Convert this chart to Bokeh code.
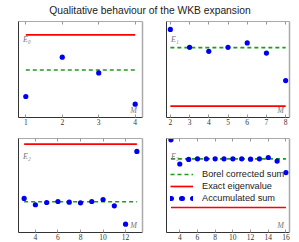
from bokeh.plotting import figure
from bokeh.layouts import column, row
from bokeh.models import (Range1d, LinearAxis, FixedTicker, Label, Legend,
                          LegendItem)
from bokeh.embed import file_html
from bokeh.resources import INLINE

TITLE = "Qualitative behaviour of the WKB expansion"

# Truncation order M and accumulated partial sums (relative energy scale;
# the original shows no y tick values)
m0 = [1, 2, 3, 4]
acc0 = [0.219, 0.628, 0.464, 0.139]
exact0 = 0.861
borel0 = 0.495

m1 = [2, 3, 4, 5, 6, 7, 8]
acc1 = [0.917, 0.731, 0.689, 0.731, 0.777, 0.671, 0.385]
exact1 = 0.119
borel1 = 0.728

m2 = [3, 4, 5, 6, 7, 8, 9, 10, 11, 12, 13]
acc2 = [0.362, 0.295, 0.319, 0.330, 0.323, 0.316, 0.330, 0.351, 0.284, 0.089, 0.862]
exact2 = 0.940
borel2 = 0.327

m3 = [3, 4, 5, 6, 7, 8, 9, 10, 11, 12, 13, 14, 15, 16]
acc3 = [0.986, 0.729, 0.777, 0.784, 0.784, 0.784, 0.784, 0.784, 0.784, 0.780,
        0.784, 0.798, 0.760, 0.638]
exact3 = 0.266
borel3 = 0.784

ticks0 = [1, 2, 3, 4]
ticks1 = [2, 3, 4, 5, 6, 7, 8]
ticks2 = [4, 6, 8, 10, 12]
ticks3 = [4, 6, 8, 10, 12, 14, 16]
xlims = [(0.8, 4.2), (1.8, 8.2), (2.5, 13.5), (2.5, 16.4)]
level_names = ["E\u2080", "E\u2081", "E\u2082", "E\u2083"]
legend_labels = ["Borel corrected sum", "Exact eigenvalue", "Accumulated sum"]

RED = "#ff0000"
GREEN = "#1f9a1f"
BLUE = "#0000f0"
SERIF = "Liberation Serif"
SANS = "Liberation Sans"
NAN = float("nan")


def panel(ms, acc, exact, borel, ticks, xr, name, fw, fh, mbl, mbr, mbt, mbb,
          with_legend=False):
    p = figure(frame_width=fw, frame_height=fh,
               x_range=Range1d(*xr), y_range=Range1d(0, 1),
               output_backend="svg", toolbar_location=None,
               x_axis_location=None, y_axis_location=None,
               min_border_left=mbl, min_border_right=mbr,
               min_border_top=mbt, min_border_bottom=mbb)
    p.grid.visible = False
    p.outline_line_color = None
    p.border_fill_color = "white"
    p.background_fill_color = "white"

    xb = LinearAxis(ticker=FixedTicker(ticks=ticks))
    xb.axis_line_color = "#333333"
    xb.major_tick_in = 3
    xb.major_tick_out = 0
    xb.major_tick_line_color = "#999999"
    xb.minor_tick_line_color = None
    xb.major_label_text_font = SERIF
    xb.major_label_text_font_size = "7.5px"
    xb.major_label_text_color = "#333333"
    xb.major_label_standoff = 1
    p.add_layout(xb, "below")

    xt = LinearAxis(ticker=FixedTicker(ticks=ticks))
    xt.axis_line_color = "#aaaaaa"
    xt.major_tick_in = 3
    xt.major_tick_out = 0
    xt.major_tick_line_color = "#999999"
    xt.minor_tick_line_color = None
    xt.major_label_overrides = {t: "" for t in ticks}
    xt.major_label_text_font_size = "1px"
    xt.major_label_standoff = 0
    p.add_layout(xt, "above")

    yl = LinearAxis(ticker=FixedTicker(ticks=[]))
    yl.axis_line_color = "#333333"
    yl.major_tick_line_color = None
    yl.minor_tick_line_color = None
    yl.major_label_text_font_size = "1px"
    yl.major_label_standoff = 0
    p.add_layout(yl, "left")

    yr = LinearAxis(ticker=FixedTicker(ticks=[]))
    yr.axis_line_color = "#aaaaaa"
    yr.axis_line_width = 1.5
    yr.major_tick_line_color = None
    yr.minor_tick_line_color = None
    yr.major_label_text_font_size = "1px"
    yr.major_label_standoff = 0
    p.add_layout(yr, "right")

    r_exact = p.line([ms[0], ms[-1]], [exact, exact], line_color=RED, line_width=1.7)
    r_borel = p.line([ms[0], ms[-1]], [borel, borel], line_color=GREEN,
                     line_width=1.7, line_dash="4 3")
    r_acc = p.scatter(ms, acc, size=5.2, fill_color=BLUE, line_color=None)

    p.add_layout(Label(x=xr[0], y=1, x_offset=4.5, y_offset=-18, text=name,
                       text_font=SERIF, text_font_style="italic",
                       text_font_size="8px", text_color="#777777",
                       text_baseline="middle"))
    p.add_layout(Label(x=xr[1], y=0, x_offset=-5.5, y_offset=2.5, text="M",
                       text_font=SERIF, text_font_style="italic",
                       text_font_size="8px", text_color="#777777",
                       text_align="right", text_baseline="bottom"))

    if with_legend:
        # legend-only helper: a dotted stroke that shows a row of markers
        proxy = p.line(x=[NAN], y=[NAN], line_color=BLUE, line_width=5,
                       line_cap="round", line_dash="1 10")
        leg = Legend(items=[LegendItem(label=legend_labels[0], renderers=[r_borel]),
                            LegendItem(label=legend_labels[1], renderers=[r_exact]),
                            LegendItem(label=legend_labels[2], renderers=[r_acc, proxy])],
                     location=(4, 29))
        leg.background_fill_alpha = 0
        leg.border_line_color = None
        leg.label_text_font = SANS
        leg.label_text_font_size = "9.2px"
        leg.label_text_color = "#222222"
        leg.glyph_width = 23
        leg.glyph_height = 10
        leg.label_height = 10
        leg.spacing = 2
        leg.padding = 0
        leg.margin = 0
        leg.label_standoff = 9
        p.add_layout(leg, "center")
    return p


# title strip
t = figure(width=299, height=20, x_range=Range1d(0, 1), y_range=Range1d(0, 1),
           output_backend="svg", toolbar_location=None,
           x_axis_location=None, y_axis_location=None,
           min_border=0)
t.grid.visible = False
t.outline_line_color = None
t.add_layout(Label(x=0.5, y=1, text=TITLE, text_font=SANS, text_font_size="10.3px",
                   text_color="#222222", text_align="center",
                   text_baseline="alphabetic", y_offset=-10))

p1 = panel(m0, acc0, exact0, borel0, ticks0, xlims[0], level_names[0],
           124, 96, 18, 11, 1, 12)
p2 = panel(m1, acc1, exact1, borel1, ticks1, xlims[1], level_names[1],
           123, 96, 13, 10, 1, 12)
p3 = panel(m2, acc2, exact2, borel2, ticks2, xlims[2], level_names[2],
           124, 94, 18, 11, 9, 10)
p4 = panel(m3, acc3, exact3, borel3, ticks3, xlims[3], level_names[3],
           123, 94, 13, 10, 9, 10, with_legend=True)

layout = column(t, row(p1, p2), row(p3, p4))
open("out.html", "w").write(file_html(layout, INLINE))
